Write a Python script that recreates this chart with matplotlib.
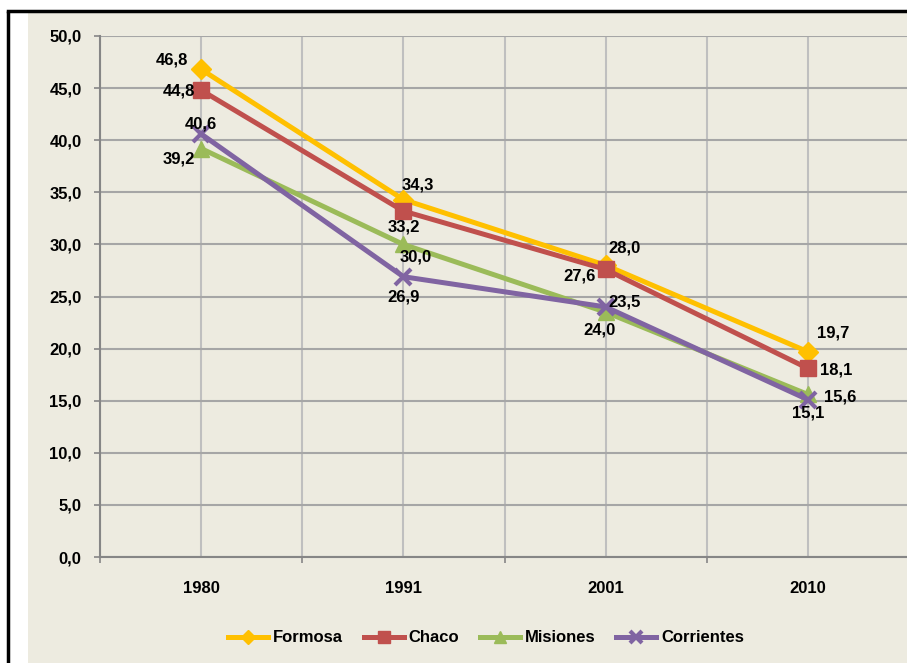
import matplotlib
matplotlib.use("Agg")
import matplotlib.pyplot as plt
from matplotlib.patches import Rectangle
from matplotlib.lines import Line2D
from matplotlib.ticker import FixedLocator, FuncFormatter

plt.rcParams['font.family'] = ['Liberation Sans', 'DejaVu Sans']
plt.rcParams['font.weight'] = 'bold'

years = ['1980', '1991', '2001', '2010']
formosa = [46.8, 34.3, 28.0, 19.7]
chaco = [44.8, 33.2, 27.6, 18.1]
misiones = [39.2, 30.0, 23.5, 15.6]
corrientes = [40.6, 26.9, 24.0, 15.1]
series_names = ['Formosa', 'Chaco', 'Misiones', 'Corrientes']

colors = ['#FFC000', '#C0504D', '#9BBB59', '#8064A2']
markers = ['D', 's', '^', 'x']
msizes = [10, 12, 12, 11]
# label offsets in pixels (dx, dy) per series, per point
offsets = [
    [(-29, 9), (14, 15), (19, 17), (25, 19)],
    [(-22, -1), (0, -16), (-26, -7), (28, -2)],
    [(-22, -10), (12, -13), (19, 10), (32, -3)],
    [(0, 10), (0, -20), (-6, -23), (0, -13)],
]
FS = 12

W, H = 907, 663
fig = plt.figure(figsize=(W / 100, H / 100), dpi=100, facecolor='white')

bg = '#EDEBE0'
fig.patches.append(Rectangle((28 / W, 0), 1, 1 - 13 / H, transform=fig.transFigure,
                             facecolor=bg, edgecolor='none', zorder=-2))
fig.lines.append(Line2D([8 / W, 8 / W], [0, 1 - 11 / H], transform=fig.transFigure,
                        color='black', lw=2.5, solid_capstyle='butt'))
fig.lines.append(Line2D([8 / W, 1], [1 - 11 / H, 1 - 11 / H], transform=fig.transFigure,
                        color='black', lw=2.5, solid_capstyle='projecting'))

left, right, top, bottom = 100, 909, 36, 557
ax = fig.add_axes([left / W, (H - bottom) / H, (right - left) / W, (bottom - top) / H])
ax.set_facecolor(bg)
ax.patch.set_alpha(0)

x = list(range(len(years)))
all_series = [formosa, chaco, misiones, corrientes]
for i, (name, vals) in enumerate(zip(series_names, all_series)):
    mew = 3 if markers[i] == 'x' else 1
    ax.plot(x, vals, color=colors[i], lw=3.6, marker=markers[i], markersize=msizes[i],
            markeredgewidth=mew, markeredgecolor=colors[i], label=name, zorder=3 + i * 0.1,
            clip_on=False)
    for j, v in enumerate(vals):
        dx, dy = offsets[i][j]
        ax.annotate(f"{v:.1f}".replace('.', ','), (x[j], v), xytext=(dx, dy),
                    textcoords='offset pixels', ha='center', va='center',
                    fontsize=FS, fontweight='bold', color='black', zorder=6)

ax.set_xlim(-0.5, 3.5)
ax.set_ylim(0, 50)
ax.yaxis.set_major_locator(FixedLocator([i * 5 for i in range(11)]))
ax.yaxis.set_major_formatter(FuncFormatter(lambda v, p: f"{v:.1f}".replace('.', ',')))
ax.xaxis.set_major_locator(FixedLocator([-0.5, 0.5, 1.5, 2.5, 3.5]))
ax.xaxis.set_major_formatter(FuncFormatter(lambda v, p: ''))
ax.xaxis.set_minor_locator(FixedLocator(x))
ax.set_xticks(x, years, minor=True)

ax.tick_params(axis='y', which='major', length=4.3, width=1.2, color='#868686', pad=9,
               labelsize=FS)
ax.tick_params(axis='x', which='major', length=4.3, width=1.2, color='#868686')
ax.tick_params(axis='x', which='minor', length=0, pad=17, labelsize=FS)
for lab in ax.get_yticklabels() + ax.get_xticklabels(minor=True):
    lab.set_fontweight('bold')

ax.grid(True, which='major', axis='y', color='#A6A6A6', lw=1.5, zorder=0)
ax.grid(True, which='both', axis='x', color='#BFBFBF', lw=1.5, zorder=0)
ax.set_axisbelow(True)
for s in ['top', 'right']:
    ax.spines[s].set_visible(False)
ax.spines['left'].set_color('#868686')
ax.spines['left'].set_linewidth(1.5)
ax.spines['bottom'].set_color('#868686')
ax.spines['bottom'].set_linewidth(1.5)

leg = fig.legend(*ax.get_legend_handles_labels(), loc='center',
                 bbox_to_anchor=(486 / W, 1 - 638 / H), ncol=4, frameon=False,
                 fontsize=FS, handlelength=2.4, handletextpad=0.3, columnspacing=1.25,
                 markerscale=0.75)
for t in leg.get_texts():
    t.set_fontweight('bold')

fig.savefig('out.png', dpi=100, facecolor='white')
